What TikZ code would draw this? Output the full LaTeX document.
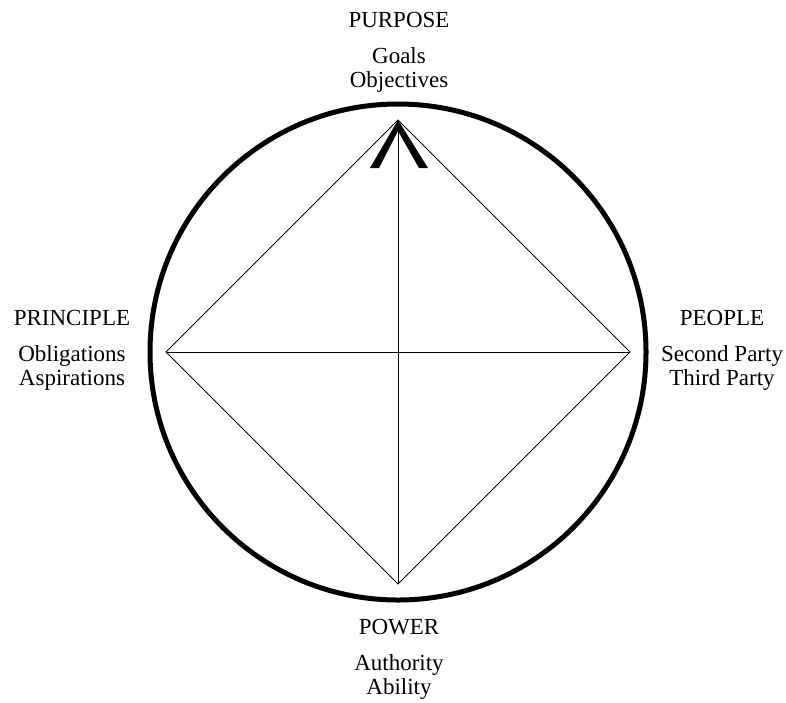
\documentclass[tikz,border=0pt]{standalone}
\usepackage{fontspec}
\setmainfont{Liberation Serif}

\begin{document}
\begin{tikzpicture}[x=1pt,y=-1pt,
    rim/.style={line width=5pt},
    edge/.style={line width=0.9pt},
    lbl/.style={align=center,anchor=north,inner sep=0pt,font=\fontsize{23}{24}\selectfont}]
  \useasboundingbox (0,0) rectangle (786,702);
  % circle and diamond
  \coordinate (o) at (398,352);
  \coordinate (top) at (398,120);
  \coordinate (right) at (630,352);
  \coordinate (bottom) at (398,584);
  \coordinate (left) at (166,352);
  \draw[rim] (o) circle [radius=248];
  \draw[edge] (top) -- (right) -- (bottom) -- (left) -- cycle;
  \draw[edge] (top) -- (bottom) (left) -- (right);
  % caret at the top corner
  \fill (370,168) -- (top) -- (428,168) -- (419,168) -- (398,131) -- (379,168) -- cycle;
  % labels
  \node[lbl] (purpose) at (399,12.5) {PURPOSE\\[12pt]Goals\\Objectives};
  \node[lbl] (principle) at (72,310.5) {PRINCIPLE\\[12pt]Obligations\\Aspirations};
  \node[lbl] (people) at (722,310.5) {PEOPLE\\[12pt]Second Party\\Third Party};
  \node[lbl] (power) at (399,619.5) {POWER\\[12pt]Authority\\Ability};
\end{tikzpicture}
\end{document}
